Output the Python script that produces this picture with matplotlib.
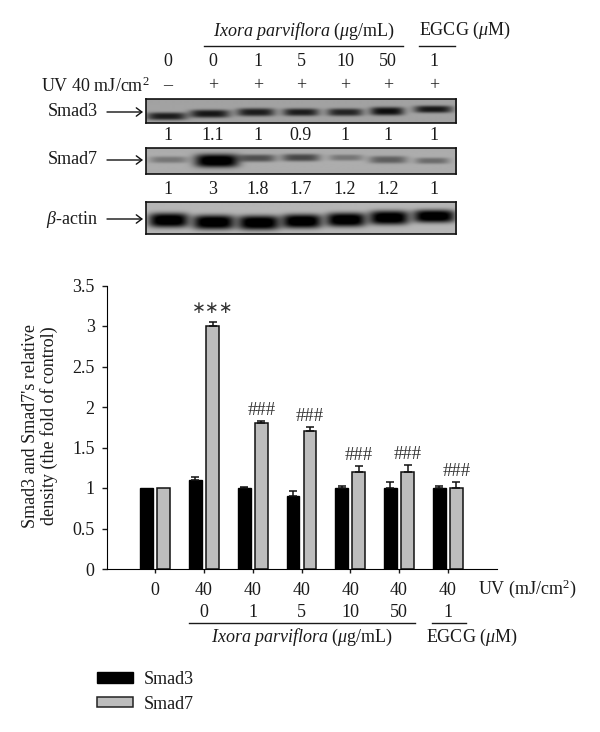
import numpy as np
import matplotlib
matplotlib.use('Agg')
import matplotlib.pyplot as plt
from matplotlib.patches import Patch

plt.rcParams['font.family'] = ['Liberation Serif', 'DejaVu Serif']
plt.rcParams['mathtext.fontset'] = 'custom'
plt.rcParams['mathtext.rm'] = 'Liberation Serif'
plt.rcParams['mathtext.it'] = 'Liberation Serif:italic'

W, H = 600, 732
FS = 13

# bar chart values
uv_labels = ['0', '40', '40', '40', '40', '40', '40']
dose_labels = ['0', '1', '5', '10', '50', '1']
smad3 = [1, 1.1, 1, 0.9, 1, 1, 1]
smad7 = [1, 3, 1.8, 1.7, 1.2, 1.2, 1]
smad3_err = [0, 0.03, 0.01, 0.06, 0.03, 0.08, 0.03]
smad7_err = [0, 0.05, 0.03, 0.05, 0.07, 0.08, 0.08]
marks = ['', '∗∗∗', '###', '###', '###', '###', '###']

# blot header rows
lane_doses = ['0', '0', '1', '5', '10', '50', '1']
lane_uv = ['–', '+', '+', '+', '+', '+', '+']
lane_x = [168, 213, 258, 301, 345, 388, 434]
smad3_fold = ['1', '1.1', '1', '0.9', '1', '1', '1']
smad7_fold = ['1', '3', '1.8', '1.7', '1.2', '1.2', '1']

# blot bands: centre x, centre y, half width, half height, darkness
smad3_cx = [166, 209, 255, 300, 344, 386, 432]
smad3_cy = [116, 113.5, 112, 112, 112, 111, 109]
smad3_hw = [20, 20, 19, 18, 18, 17, 19]
smad3_hh = [3.8, 4, 4, 3.8, 3.8, 4.2, 3.6]
smad3_dark = [0.72, 0.75, 0.72, 0.72, 0.68, 0.8, 0.75]

smad7_cx = [168, 216, 256, 300, 345, 387, 431]
smad7_cy = [160, 161, 158.5, 158, 158, 160, 161]
smad7_hw = [19, 22, 19, 19, 17, 19, 17]
smad7_hh = [3.2, 6.4, 3.6, 3.6, 3, 3.6, 3]
smad7_dark = [0.28, 1, 0.48, 0.52, 0.28, 0.4, 0.33]

actin_cx = [168, 213, 258, 301, 345, 388, 433]
actin_cy = [220, 222, 222.5, 221, 219.5, 217.5, 216]
actin_hw = [20, 21, 21, 20, 20, 20, 21]
actin_hh = [7.2, 7.2, 7.2, 7, 7, 7, 6.4]
actin_dark = [1, 1, 1, 1, 1, 1, 1]


def px_text(x, y, s, **kw):
    kw.setdefault('ha', 'center')
    kw.setdefault('va', 'center')
    kw.setdefault('fontsize', FS)
    kw.setdefault('color', '#1a1a1a')
    return fig.text(x / W, 1 - y / H, s, **kw)


def px_line(x0, x1, y):
    fig.add_artist(plt.Line2D([x0 / W, x1 / W], [1 - y / H, 1 - y / H], color='#1a1a1a', lw=1.0))


def draw_blot(x0, x1, y0, y1, bg, cx, cy, hw, hh, dark):
    ax = fig.add_axes([x0 / W, 1 - y1 / H, (x1 - x0) / W, (y1 - y0) / H])
    xx, yy = np.meshgrid(np.arange(x0, x1, 0.5), np.arange(y0, y1, 0.5))
    img = np.full(xx.shape, float(bg))
    # slightly lighter towards the middle of the membrane
    img += 0.04 * np.exp(-((yy - (y0 + y1) / 2) / (y1 - y0)) ** 2)
    for i in range(len(cx)):
        band = np.exp(-((xx - cx[i]) / hw[i]) ** 4 - np.abs((yy - cy[i]) / hh[i]) ** 3)
        img = img * (1 - dark[i] * band) - 0.1 * dark[i] * band
    ax.imshow(np.clip(img, 0, 1), cmap='gray', vmin=0, vmax=1, aspect='auto',
              extent=[x0, x1, y1, y0], interpolation='bilinear')
    ax.set_xticks([])
    ax.set_yticks([])
    for s in ax.spines.values():
        s.set_linewidth(1.2)
        s.set_color('#111111')
    return ax


def px_arrow(x0, x1, y):
    fig.add_artist(matplotlib.patches.FancyArrowPatch(
        (x0 / W, 1 - y / H), (x1 / W, 1 - y / H), transform=fig.transFigure,
        arrowstyle='->,head_length=4,head_width=3', lw=1.0, color='#111111',
        shrinkA=0, shrinkB=0))


fig = plt.figure(figsize=(W / 100, H / 100), dpi=100)

# top panel
px_text(304, 31, r'$\mathit{Ixora\ parviflora}$ ($\mu$g/mL)')
px_text(465, 30, r'EGCG ($\mu$M)')
px_line(204, 403, 45.5)
px_line(419, 455, 45.5)
for x, d, u, f3, f7 in zip(lane_x, lane_doses, lane_uv, smad3_fold, smad7_fold):
    px_text(x, 62, d)
    px_text(x, 86, u)
    px_text(x, 136, f3)
    px_text(x, 190, f7)
px_text(150, 86, r'UV 40 mJ/cm$^2$', ha='right')
px_text(98, 111, 'Smad3', ha='right')
px_text(98, 160, 'Smad7', ha='right')
px_text(98, 220, r'$\beta$-actin', ha='right')
px_arrow(107, 143, 112)
px_arrow(107, 143, 160)
px_arrow(107, 143, 219)

draw_blot(145.5, 456, 99, 123, 0.6, smad3_cx, smad3_cy, smad3_hw, smad3_hh, smad3_dark)
draw_blot(145.5, 456, 148, 174, 0.64, smad7_cx, smad7_cy, smad7_hw, smad7_hh, smad7_dark)
draw_blot(145.5, 456, 202, 234, 0.68, actin_cx, actin_cy, actin_hw, actin_hh, actin_dark)

# bar chart
ax = fig.add_axes([106.5 / W, 1 - 569 / H, 390 / W, 283.5 / H])
x = np.arange(1, 8)
off = 0.175
bw = 0.265
ax.bar(x - off, smad3, bw, color='black', edgecolor='black', lw=1.0)
ax.bar(x + off, smad7, bw, color='#bdbdbd', edgecolor='#111111', lw=1.1)
ekw = dict(fmt='none', ecolor='#111111', elinewidth=1.1, capsize=3.2, capthick=1.1)
ax.errorbar(x[1:] - off, smad3[1:], yerr=[np.zeros(6), smad3_err[1:]], **ekw)
ax.errorbar(x[1:] + off, smad7[1:], yerr=[np.zeros(6), smad7_err[1:]], **ekw)
ax.set_xlim(0, 8)
ax.set_ylim(0, 3.5)
ax.set_xticks(x)
ax.set_xticklabels(uv_labels)
ax.set_yticks([0, 0.5, 1, 1.5, 2, 2.5, 3, 3.5])
ax.set_yticklabels(['0', '0.5', '1', '1.5', '2', '2.5', '3', '3.5'])
ax.tick_params(axis='x', length=3, width=1, labelsize=FS, pad=6.5, colors='#1a1a1a')
ax.tick_params(axis='y', length=3.5, width=1, labelsize=FS, pad=5, colors='#1a1a1a')
ax.spines['top'].set_visible(False)
ax.spines['right'].set_visible(False)

for i, m in enumerate(marks):
    if not m:
        continue
    top = smad7[i] + smad7_err[i]
    if m == '###':
        ax.annotate(m, (x[i] + off, top), xytext=(0, 7.5), textcoords='offset points',
                    ha='center', va='center', fontsize=13.5, color='#333333')
    else:
        ax.annotate(m, (x[i] + off, top), xytext=(0, 10), textcoords='offset points',
                    ha='center', va='center', fontsize=12, color='#333333',
                    family='DejaVu Sans')

for xi, d in zip(x[1:], dose_labels):
    ax.text(xi, -0.543, d, ha='center', va='center', fontsize=FS, color='#1a1a1a', clip_on=False)

px_text(478, 589, r'UV (mJ/cm$^2$)', ha='left')
px_line(189, 415, 623)
px_line(432, 466, 623)
px_text(302, 637, r'$\mathit{Ixora\ parviflora}$ ($\mu$g/mL)')
px_text(472, 637, r'EGCG ($\mu$M)')
px_text(40, 426, "Smad3 and Smad7's relative\ndensity (the fold of control)", rotation=90,
        multialignment='center', linespacing=1.05)

handles = [Patch(facecolor='black', edgecolor='black', label='Smad3'),
           Patch(facecolor='#bdbdbd', edgecolor='#222222', lw=1.1, label='Smad7')]
fig.legend(handles=handles, loc='lower left', bbox_to_anchor=(83 / W, 1 - 727 / H), frameon=False,
           fontsize=FS, handlelength=1.95, handleheight=0.5, handletextpad=0.62, labelspacing=0.42,
           labelcolor='#1a1a1a', borderpad=0.3)

plt.savefig('out.png', dpi=100)
plt.close()
